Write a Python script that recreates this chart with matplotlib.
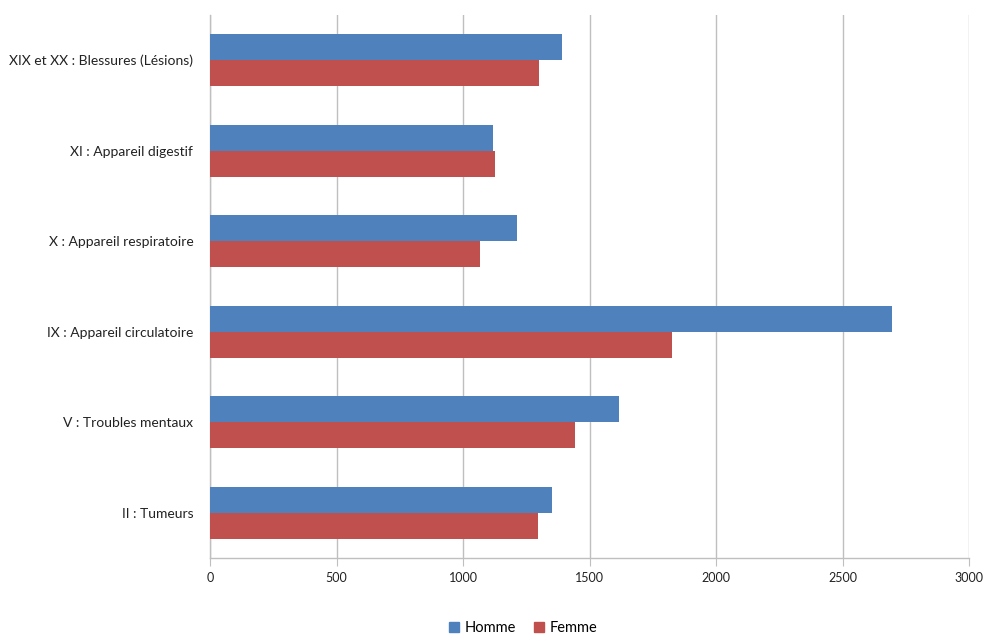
import matplotlib
matplotlib.use("Agg")
import matplotlib.pyplot as plt
import numpy as np
from matplotlib.patches import Patch

categories = ["II : Tumeurs", "V : Troubles mentaux", "IX : Appareil circulatoire",
              "X : Appareil respiratoire", "XI : Appareil digestif",
              "XIX et XX : Blessures (Lésions)"]
homme = [1350, 1615, 2697, 1215, 1119, 1391]
femme = [1295, 1444, 1828, 1069, 1126, 1302]
xticks = [0, 500, 1000, 1500, 2000, 2500, 3000]
series_names = ["Homme", "Femme"]

plt.rcParams['font.family'] = ['Lato', 'DejaVu Sans']

fig = plt.figure(figsize=(10, 6.43), dpi=100)
ax = fig.add_axes([0.21, 0.132, 0.759, 0.845])

blue = "#4F81BD"
red = "#C0504D"
grid = "#BFBFBF"

y = np.arange(len(categories))
h = 0.286
ax.barh(y + h / 2, homme, height=h, color=blue, zorder=3)
ax.barh(y - h / 2, femme, height=h, color=red, zorder=3)

ax.set_xlim(0, 3000)
ax.set_ylim(-0.5, len(categories) - 0.5)
ax.set_xticks(xticks)
ax.set_xticklabels([str(v) for v in xticks], fontsize=9, color="#222222")
ax.set_yticks(y)
ax.set_yticklabels(categories, fontsize=10, color="#222222")

ax.xaxis.grid(True, color=grid, linewidth=1, zorder=0)
ax.yaxis.grid(False)
for s in ["top", "right"]:
    ax.spines[s].set_visible(False)
ax.spines["left"].set_color(grid)
ax.spines["bottom"].set_color(grid)
ax.spines["left"].set_linewidth(1)
ax.spines["bottom"].set_linewidth(1)
ax.tick_params(axis="y", length=0, pad=12)
ax.tick_params(axis="x", length=6, color=grid, direction="out", pad=4)

handles = [Patch(color=blue, label=series_names[0]), Patch(color=red, label=series_names[1])]
fig.legend(handles=handles, loc="center", bbox_to_anchor=(0.523, 0.023), ncol=2,
           frameon=False, fontsize=10.5, handlelength=0.7, handleheight=0.7,
           handletextpad=0.4, columnspacing=1.2)

fig.savefig("out.png", dpi=100)
